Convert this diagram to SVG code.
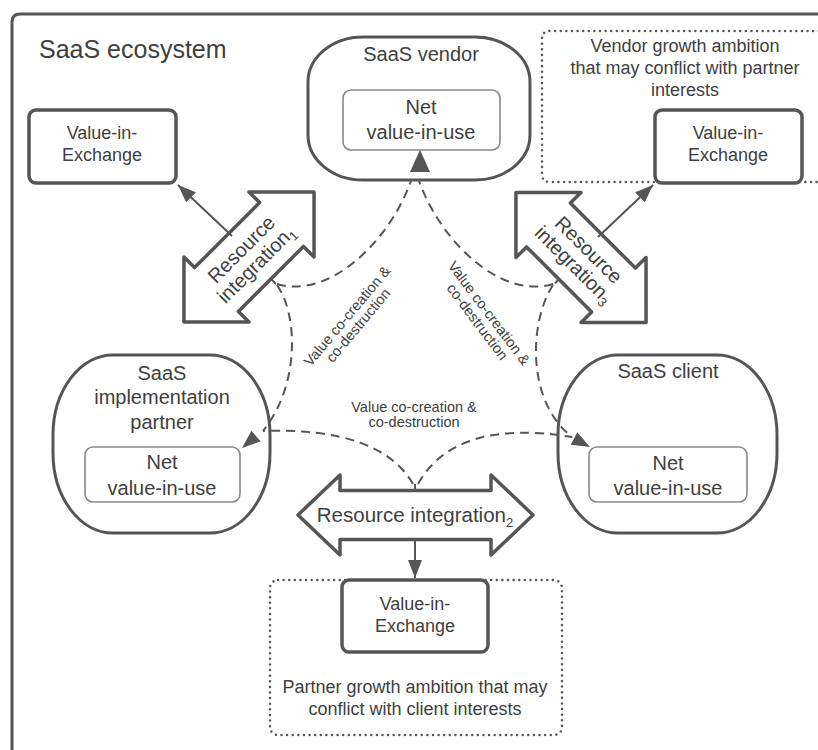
<svg xmlns="http://www.w3.org/2000/svg" width="818" height="750" viewBox="0 0 818 750">
<style>
text{font-family:"Liberation Sans",Arial,sans-serif;fill:#404040}
.frame{fill:none;stroke:#555;stroke-width:3}
.dot{fill:none;stroke:#555;stroke-width:2.5;stroke-linecap:round;stroke-dasharray:0.01 5.6}
.box{fill:#fff;stroke:#555;stroke-width:3.5}
.node{fill:#fff;stroke:#555;stroke-width:3}
.net{fill:#fff;stroke:#888;stroke-width:1.6}
.ri{fill:#fff;stroke:#555;stroke-width:3.5;stroke-linejoin:round}
.dash{fill:none;stroke:#555;stroke-width:2;stroke-dasharray:9 6}
.solid{fill:none;stroke:#555;stroke-width:2}
.head{fill:#555}
.lbl{font-size:20px;text-anchor:middle}
.sm{font-size:18px;text-anchor:middle}
.vc{font-size:14.5px;text-anchor:middle}
</style>
<defs>
<marker id="ah" markerWidth="20" markerHeight="14" refX="18" refY="7" orient="auto" markerUnits="userSpaceOnUse"><path d="M0,0 L18,7 L0,14 z" fill="#555"/></marker>
</defs>
<g id="ecosystem">
<path class="frame" d="M12,760 V22 Q12,14 20,14 H830"/>
<text x="39" y="58" font-size="25">SaaS ecosystem</text>
</g>
<g id="vendor-ambition">
<path class="dot" d="M830,31 H550 Q542,31 542,39 V174 Q542,182 550,182 H830"/>
<text class="sm" x="685" y="52">Vendor growth ambition</text>
<text class="sm" x="685" y="74">that may conflict with partner</text>
<text class="sm" x="685" y="96">interests</text>
</g>
<g id="partner-ambition">
<rect class="dot" x="270" y="580" width="292" height="155" rx="8"/>
<text class="sm" x="415" y="693">Partner growth ambition that may</text>
<text class="sm" x="415" y="715">conflict with client interests</text>
</g>
<g id="vie-left">
<rect class="box" x="29" y="110" width="147" height="73" rx="7"/>
<text class="sm" x="102" y="139">Value-in-</text>
<text class="sm" x="102" y="161">Exchange</text>
</g>
<g id="vie-right">
<rect class="box" x="655" y="110" width="147" height="73" rx="7"/>
<text class="sm" x="728" y="139">Value-in-</text>
<text class="sm" x="728" y="161">Exchange</text>
</g>
<g id="vie-bottom">
<rect class="box" x="342" y="580" width="146" height="72" rx="7"/>
<text class="sm" x="415" y="610">Value-in-</text>
<text class="sm" x="415" y="632">Exchange</text>
</g>
<g id="vendor">
<rect class="node" x="308" y="37" width="222" height="143" rx="55" ry="45"/>
<text class="lbl" x="421" y="61">SaaS vendor</text>
<rect class="net" x="343" y="90" width="157" height="60" rx="8"/>
<text class="lbl" x="421" y="114">Net</text>
<text class="lbl" x="421" y="139">value-in-use</text>
</g>
<g id="partner">
<rect class="node" x="53" y="355" width="217" height="178" rx="60" ry="80"/>
<text class="lbl" x="162" y="380">SaaS</text>
<text class="lbl" x="162" y="404">implementation</text>
<text class="lbl" x="162" y="429">partner</text>
<rect class="net" x="85" y="447" width="155" height="55" rx="8"/>
<text class="lbl" x="162" y="469">Net</text>
<text class="lbl" x="162" y="495">value-in-use</text>
</g>
<g id="client">
<rect class="node" x="558" y="355" width="219" height="178" rx="60" ry="80"/>
<text class="lbl" x="668" y="378">SaaS client</text>
<rect class="net" x="589" y="447" width="158" height="55" rx="8"/>
<text class="lbl" x="668" y="470">Net</text>
<text class="lbl" x="668" y="495">value-in-use</text>
</g>
<g id="ri1" transform="translate(249,257) rotate(-45)">
<polygon class="ri" points="-92,0 -46,-46 -46,-31 46,-31 46,-46 92,0 46,46 46,31 -46,31 -46,46"/>
<text class="lbl" x="0" y="-4">Resource</text>
<text class="lbl" x="0" y="17">integration<tspan font-size="13" dy="4">1</tspan></text>
</g>
<g id="ri3" transform="translate(581,257.5) rotate(45)">
<polygon class="ri" points="-92,0 -46,-46 -46,-31 46,-31 46,-46 92,0 46,46 46,31 -46,31 -46,46"/>
<text class="lbl" x="0" y="-4">Resource</text>
<text class="lbl" x="0" y="17">integration<tspan font-size="13" dy="4">3</tspan></text>
</g>
<g id="ri2">
<polygon class="ri" points="298,515 340,475 340,490.5 491,490.5 491,475 533,515 491,555 491,539.5 340,539.5 340,555"/>
<text x="415" y="522" font-size="20.5" text-anchor="middle">Resource integration<tspan font-size="13" dy="5">2</tspan></text>
</g>
<g id="connectors">
<path class="solid" d="M232,236 L178,185" marker-end="url(#ah)"/>
<path class="solid" d="M598,237 L653,185" marker-end="url(#ah)"/>
<path class="solid" d="M415,540 L415,578" marker-end="url(#ah)"/>
<path class="solid" d="M271,279 L276,284"/>
<path class="solid" d="M559,279 L555,283.5"/>
<path class="solid" d="M415,490 L415,484"/>
<path class="dash" d="M277,284 C330,300 390,240 411,181"/>
<path class="dash" d="M553,284 C500,300 440,240 419,181"/>
<path class="dash" d="M277,285 C298,315 300,385 263,431"/>
<path class="dash" d="M553,285 C530,320 525,400 572,437"/>
<path class="dash" d="M413,484 Q380,427 263,431"/>
<path class="dash" d="M418,484 Q455,418 572,437"/>
<polygon class="head" points="420,150 410,172 430,172"/>
<polygon class="head" points="242,448 260.6,441.3 251.4,430.7"/>
<polygon class="head" points="590,447 570.7,444.7 577.3,432.3"/>
<g transform="translate(347,316) rotate(-50)">
<text class="vc" x="0" y="5">Value co-creation &amp;</text>
<text class="vc" x="0" y="19.5">co-destruction</text>
</g>
<g transform="translate(489,313) rotate(53)">
<text class="vc" x="0" y="5">Value co-creation &amp;</text>
<text class="vc" x="0" y="19.5">co-destruction</text>
</g>
<text class="vc" x="414" y="412">Value co-creation &amp;</text>
<text class="vc" x="414" y="426.5">co-destruction</text>
</g>
</svg>
